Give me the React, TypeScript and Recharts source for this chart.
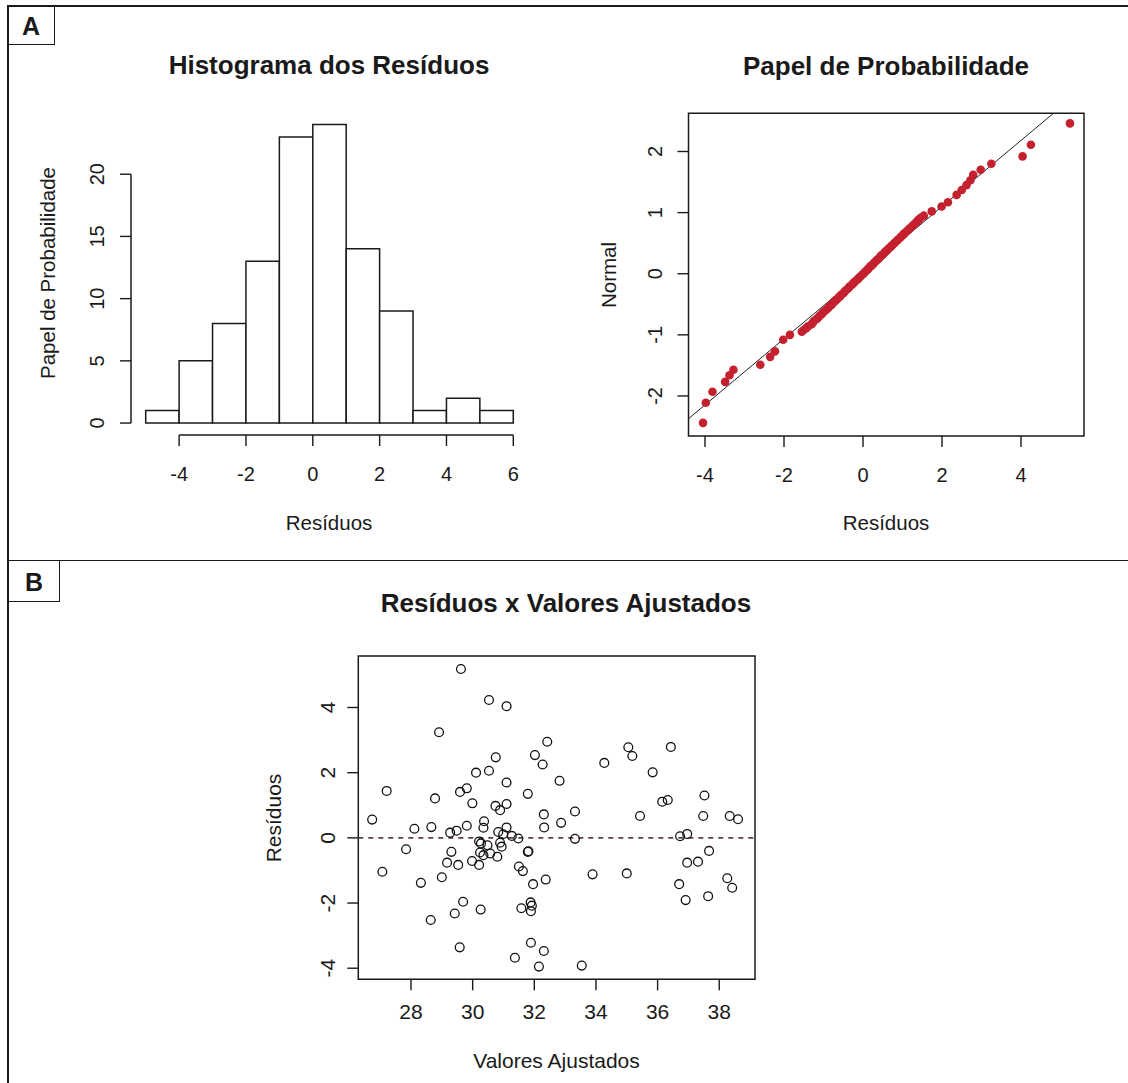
import React from "react";
import {
  ComposedChart, ScatterChart, Bar, Scatter, XAxis, YAxis, ReferenceLine, ReferenceArea,
} from "recharts";

// histogram of residuals (bins of width 1)
const binStart = [-5, -4, -3, -2, -1, 0, 1, 2, 3, 4, 5];
const binCount = [1, 5, 8, 13, 23, 24, 14, 9, 1, 2, 1];
const histXTicks = [-4, -2, 0, 2, 4, 6];
const histYTicks = [0, 5, 10, 15, 20];

// normal probability plot
const qqResid = [
  -4.05, -3.98, -3.81, -3.49, -3.38, -3.28, -2.6, -2.35, -2.23, -2.02, -1.85, -1.55,
  -1.5, -1.44, -1.39, -1.31, -1.27, -1.24, -1.17, -1.14, -1.1, -1.04,
  -1.02, -0.97, -0.93, -0.88, -0.86, -0.8, -0.78, -0.73, -0.7, -0.66,
  -0.62, -0.58, -0.56, -0.5, -0.47, -0.45, -0.39, -0.36, -0.34, -0.28,
  -0.25, -0.22, -0.19, -0.13, -0.11, -0.07, -0.03, 0.01, 0.04, 0.08,
  0.12, 0.14, 0.19, 0.22, 0.26, 0.28, 0.33, 0.36, 0.4, 0.44,
  0.47, 0.51, 0.55, 0.58, 0.62, 0.66, 0.7, 0.73, 0.78, 0.81,
  0.86, 0.89, 0.94, 0.97, 1.02, 1.05, 1.1, 1.15, 1.18, 1.23,
  1.28, 1.33, 1.37, 1.42, 1.47, 1.54,
  1.74, 1.99, 2.15, 2.37, 2.5, 2.62, 2.72, 2.79, 2.98, 3.25, 4.04, 4.25, 5.24,
];
const qqNormal = [
  -2.44, -2.11, -1.93, -1.77, -1.66, -1.57, -1.49, -1.36, -1.27, -1.08, -1.0, -0.95,
  -0.92, -0.89, -0.86, -0.83, -0.8, -0.77, -0.74, -0.72, -0.69, -0.66,
  -0.64, -0.61, -0.59, -0.56, -0.54, -0.51, -0.49, -0.46, -0.44, -0.42,
  -0.39, -0.37, -0.35, -0.32, -0.3, -0.28, -0.25, -0.23, -0.21, -0.18,
  -0.16, -0.14, -0.12, -0.09, -0.07, -0.05, -0.02, 0.0, 0.02, 0.05,
  0.07, 0.09, 0.12, 0.14, 0.16, 0.18, 0.21, 0.23, 0.25, 0.28,
  0.3, 0.32, 0.35, 0.37, 0.39, 0.42, 0.44, 0.46, 0.49, 0.51,
  0.54, 0.56, 0.59, 0.61, 0.64, 0.66, 0.69, 0.72, 0.74, 0.77,
  0.8, 0.83, 0.86, 0.89, 0.92, 0.95,
  1.02, 1.1, 1.17, 1.29, 1.37, 1.45, 1.53, 1.62, 1.7, 1.8, 1.92, 2.11, 2.46,
];
const qqLineX = [-4.6, 5.2];
const qqLineY = [-2.47, 2.83];
const qqXTicks = [-4, -2, 0, 2, 4];
const qqYTicks = [-2, -1, 0, 1, 2];

// residuals vs fitted values
const fitted = [
  29.62, 30.53, 31.1, 28.91, 32.42, 32.02, 30.75, 32.27, 30.11, 30.53,
  32.82, 27.21, 31.1, 29.59, 29.81, 31.79, 28.78, 29.99, 30.74, 31.1,
  30.89, 32.31, 26.74, 32.87, 30.37, 28.11, 28.66, 29.27, 29.48, 29.81,
  30.35, 31.1, 30.83, 30.99, 31.27, 31.48, 32.32, 27.84, 27.07, 30.21,
  30.27, 30.48, 29.31, 30.24, 30.35, 30.57, 30.8, 30.89, 30.94, 31.79,
  31.81, 29.17, 29.53, 29.98, 30.21, 31.5, 31.63, 31.96, 32.37, 28.32,
  29.0, 29.69, 29.42, 30.26, 28.64, 31.58, 31.88, 31.92, 31.89, 29.58,
  31.89, 32.31, 31.37, 32.15, 33.32, 33.89, 35.0, 36.73, 36.96, 37.67,
  36.96, 37.31, 36.7, 36.91, 37.64, 38.26, 38.42, 33.54, 35.05, 35.18,
  36.43, 34.27, 35.84, 37.52, 36.15, 36.33, 33.32, 35.43, 37.48, 38.34,
  38.61,
];
const resid = [
  5.18, 4.23, 4.04, 3.24, 2.95, 2.54, 2.47, 2.25, 2.0, 2.06,
  1.75, 1.44, 1.7, 1.41, 1.52, 1.35, 1.21, 1.06, 0.98, 1.04,
  0.85, 0.72, 0.56, 0.46, 0.51, 0.28, 0.33, 0.16, 0.22, 0.37,
  0.31, 0.32, 0.18, 0.11, 0.06, -0.02, 0.32, -0.35, -1.04, -0.11,
  -0.17, -0.23, -0.43, -0.45, -0.53, -0.48, -0.58, -0.15, -0.27, -0.43,
  -0.41, -0.76, -0.83, -0.71, -0.83, -0.88, -1.02, -1.42, -1.28, -1.38,
  -1.21, -1.96, -2.32, -2.2, -2.52, -2.16, -1.98, -2.08, -2.25, -3.36,
  -3.22, -3.47, -3.68, -3.95, -0.03, -1.12, -1.09, 0.05, 0.12, -0.4,
  -0.76, -0.73, -1.42, -1.91, -1.79, -1.24, -1.53, -3.92, 2.78, 2.51,
  2.79, 2.3, 2.01, 1.3, 1.11, 1.16, 0.81, 0.67, 0.67, 0.67,
  0.57,
];
const fitXTicks = [28, 30, 32, 34, 36, 38];
const fitYTicks = [-4, -2, 0, 2, 4];

const W = 1128;
const H = 1083;
const FONT = "'Liberation Sans', Arial, Helvetica, sans-serif";
const INK = "#1a1a1a";

const histData = binStart.map((s, i) => ({ mid: s + 0.5, count: binCount[i] }));
const qqData = qqResid.map((x, i) => ({ x, y: qqNormal[i] }));
const fitData = fitted.map((x, i) => ({ x, y: resid[i] }));

// axes take 1px each (a zero-sized axis is not drawn), so the margins give it back
const marginFor = (l: number, t: number, r: number, b: number) => ({
  left: l - 1, top: t, right: W - r, bottom: H - b - 1,
});

const xTick = (dy: number, fs: number) => (p: any) => (
  <text x={p.x} y={p.y + dy} textAnchor="middle" dominantBaseline="central"
    fontSize={fs} fontFamily={FONT} fill={INK}>{p.payload.value}</text>
);
const yTick = (dx: number, fs: number) => (p: any) => (
  <text x={p.x - dx} y={p.y} textAnchor="middle" dominantBaseline="central"
    transform={`rotate(-90 ${p.x - dx} ${p.y})`}
    fontSize={fs} fontFamily={FONT} fill={INK}>{p.payload.value}</text>
);

function Txt({ x, y, size, bold, rotate, children }: any) {
  return (
    <div style={{
      position: "absolute", left: x, top: y, whiteSpace: "nowrap",
      transform: `translate(-50%, -50%)${rotate ? " rotate(-90deg)" : ""}`,
      fontFamily: FONT, fontSize: size, fontWeight: bold ? 700 : 400, color: INK, lineHeight: 1,
    }}>{children}</div>
  );
}

const line = (l: number, t: number, w: number, h: number) => (
  <div style={{ position: "absolute", left: l, top: t, width: w, height: h, background: INK }} />
);

const layer: React.CSSProperties = { position: "absolute", left: 0, top: 0 };

export default function App() {
  const hist = { l: 131, t: 112.5, r: 528, b: 435 };
  const qq = { l: 688.5, t: 113.3, r: 1084, b: 436 };
  const fit = { l: 358.3, t: 656, r: 755, b: 979.3 };
  const tickLine = { stroke: INK, strokeWidth: 1.4 };

  return (
    <div style={{ position: "absolute", left: 0, top: 0, width: W, height: H, background: "#fff", overflow: "hidden" }}>
      {/* frame and panel tags */}
      {line(7, 5, W - 7, 1.6)}
      {line(7, 5, 1.6, H - 5)}
      {line(7, 559.5, W - 7, 1.6)}
      <div style={{ position: "absolute", left: 7, top: 5, width: 47, height: 39, border: `1.6px solid ${INK}`, borderTop: "none", borderLeft: "none" }} />
      <div style={{ position: "absolute", left: 7, top: 560, width: 52, height: 41, border: `1.6px solid ${INK}`, borderTop: "none", borderLeft: "none" }} />
      <Txt x={31} y={26} size={25} bold>A</Txt>
      <Txt x={34} y={582} size={25} bold>B</Txt>

      {/* Histogram */}
      <div style={layer}>
        <ComposedChart width={W} height={H} data={histData} margin={marginFor(hist.l, hist.t, hist.r, hist.b)}>
          <XAxis dataKey="mid" type="number" domain={[-5.44, 6.44]} allowDataOverflow ticks={histXTicks}
            height={1} axisLine={false} tickLine={tickLine} tickSize={11} tickMargin={0} tick={xTick(27.5, 20)} />
          <YAxis type="number" domain={[-0.96, 24.96]} allowDataOverflow ticks={histYTicks}
            width={1} axisLine={false} tickLine={tickLine} tickSize={11} tickMargin={0} tick={yTick(23, 20)} />
          <Bar dataKey="count" fill="#fff" stroke={INK} strokeWidth={1.5} barSize={33.4} isAnimationActive={false} />
          <ReferenceLine segment={[{ x: -4, y: -0.96 }, { x: 6, y: -0.96 }]} stroke={INK} strokeWidth={1.5} ifOverflow="visible" />
          <ReferenceLine segment={[{ x: -5.44, y: 0 }, { x: -5.44, y: 20 }]} stroke={INK} strokeWidth={1.5} ifOverflow="visible" />
        </ComposedChart>
      </div>
      <Txt x={329} y={65} size={26} bold>Histograma dos Resíduos</Txt>
      <Txt x={48} y={273} size={20.5} rotate>Papel de Probabilidade</Txt>
      <Txt x={329} y={523} size={20.5}>Resíduos</Txt>

      {/* Normal probability plot */}
      <div style={layer}>
        <ScatterChart width={W} height={H} margin={marginFor(qq.l, qq.t, qq.r, qq.b)}>
          <XAxis dataKey="x" type="number" domain={[-4.418, 5.595]} allowDataOverflow ticks={qqXTicks}
            height={1} axisLine={false} tickLine={tickLine} tickSize={11} tickMargin={0} tick={xTick(27.5, 20)} />
          <YAxis dataKey="y" type="number" domain={[-2.655, 2.625]} allowDataOverflow ticks={qqYTicks}
            width={1} axisLine={false} tickLine={tickLine} tickSize={11} tickMargin={0} tick={yTick(22, 20)} />
          <ReferenceArea x1={-4.418} x2={5.595} y1={-2.655} y2={2.625} fill="none" stroke={INK} strokeWidth={1.5} ifOverflow="visible" />
          <Scatter data={qqData} isAnimationActive={false}
            shape={(p: any) => <circle cx={p.cx} cy={p.cy} r={4.3} fill="#c4202e" />} />
          <ReferenceLine segment={[{ x: qqLineX[0], y: qqLineY[0] }, { x: qqLineX[1], y: qqLineY[1] }]}
            stroke="#222" strokeWidth={1} ifOverflow="hidden" />
        </ScatterChart>
      </div>
      <Txt x={886} y={66} size={26} bold>Papel de Probabilidade</Txt>
      <Txt x={609} y={275} size={20.5} rotate>Normal</Txt>
      <Txt x={886} y={523} size={20.5}>Resíduos</Txt>

      {/* Residuals vs fitted */}
      <div style={layer}>
        <ScatterChart width={W} height={H} margin={marginFor(fit.l, fit.t, fit.r, fit.b)}>
          <XAxis dataKey="x" type="number" domain={[26.29, 39.16]} allowDataOverflow ticks={fitXTicks}
            height={1} axisLine={false} tickLine={tickLine} tickSize={11} tickMargin={0} tick={xTick(21.5, 21)} />
          <YAxis dataKey="y" type="number" domain={[-4.34, 5.58]} allowDataOverflow ticks={fitYTicks}
            width={1} axisLine={false} tickLine={tickLine} tickSize={11} tickMargin={0} tick={yTick(20, 21)} />
          <ReferenceArea x1={26.29} x2={39.16} y1={-4.34} y2={5.58} fill="none" stroke={INK} strokeWidth={1.5} ifOverflow="visible" />
          <ReferenceLine y={0} stroke="#5a4048" strokeWidth={1.6} strokeDasharray="5 5" />
          <Scatter data={fitData} isAnimationActive={false}
            shape={(p: any) => <circle cx={p.cx} cy={p.cy} r={4.4} fill="none" stroke="#111" strokeWidth={1.3} />} />
        </ScatterChart>
      </div>
      <Txt x={566} y={603} size={26} bold>Resíduos x Valores Ajustados</Txt>
      <Txt x={273} y={817.5} size={21} rotate>Resíduos</Txt>
      <Txt x={556.5} y={1060} size={21}>Valores Ajustados</Txt>
    </div>
  );
}
